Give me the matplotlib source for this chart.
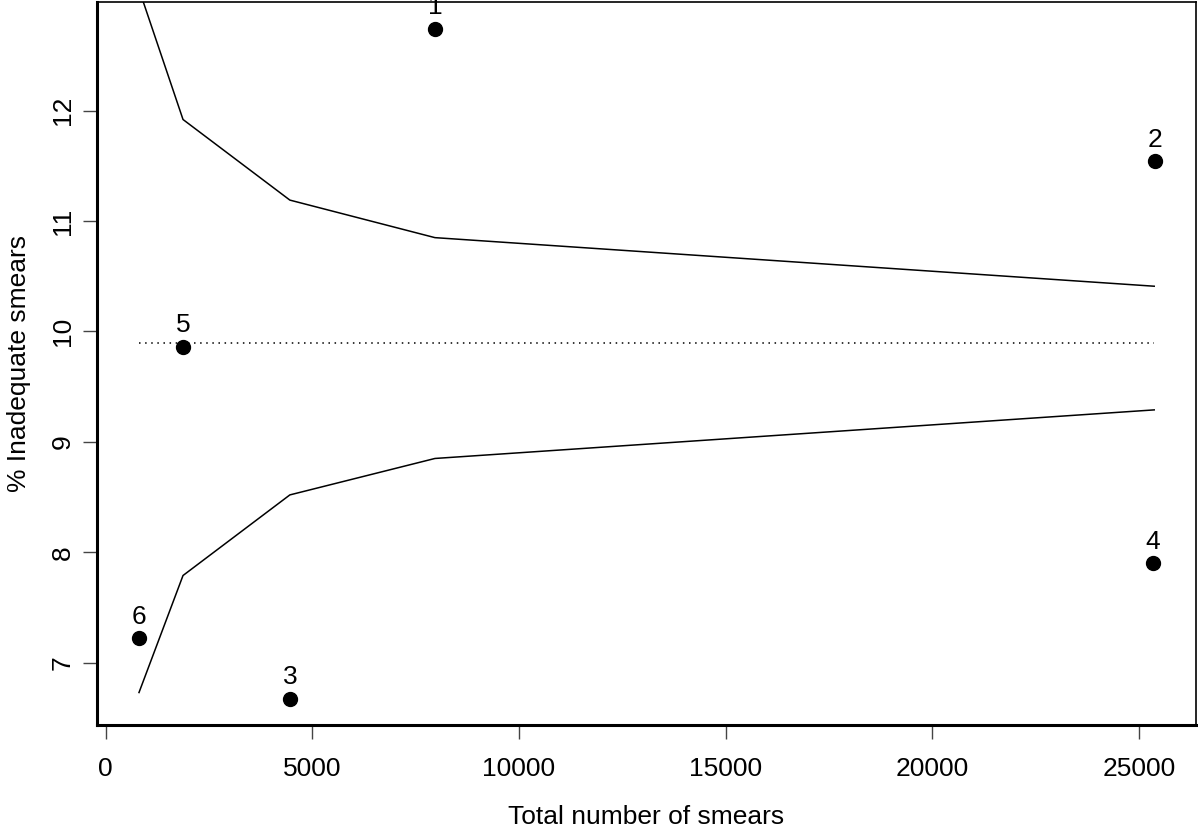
import matplotlib
matplotlib.use("Agg")
import matplotlib.pyplot as plt

plt.rcParams['font.family'] = ['Liberation Sans', 'DejaVu Sans']

# labs: total smears vs % inadequate
lab_ids = ['1', '2', '3', '4', '5', '6']
n_smears = [7970, 25390, 4460, 25340, 1875, 810]
pct_inadequate = [12.74, 11.54, 6.67, 7.90, 9.86, 7.22]

# funnel control limits
limit_x = [810, 1875, 4460, 7970, 25370]
upper_limit = [13.10, 11.92, 11.19, 10.85, 10.41]
lower_limit = [6.73, 7.79, 8.52, 8.85, 9.29]
mean_pct = 9.896

fig = plt.figure(figsize=(11.98, 8.34), dpi=100)
ax = fig.add_axes([0.081, 0.1307, 0.9173, 0.867])

ax.plot(limit_x, upper_limit, color='black', linewidth=1.1)
ax.plot(limit_x, lower_limit, color='black', linewidth=1.1)
ax.plot([limit_x[0], limit_x[-1]], [mean_pct, mean_pct], color='black',
        linewidth=1.1, linestyle=(0, (1, 3)))

ax.plot(n_smears, pct_inadequate, 'o', color='black', markersize=10)
for lab, x, y in zip(lab_ids, n_smears, pct_inadequate):
    ax.annotate(lab, (x, y), xytext=(0, 7), textcoords='offset points',
                ha='center', va='bottom', fontsize=19)

ax.set_xlim(-205, 26380)
ax.set_ylim(6.436, 12.985)
ax.set_xticks([0, 5000, 10000, 15000, 20000, 25000])
ax.set_yticks([7, 8, 9, 10, 11, 12])
ax.tick_params(axis='both', labelsize=19, length=10, width=1, color='#444444')
ax.tick_params(axis='x', pad=13)
ax.tick_params(axis='y', pad=6)
for lbl in ax.get_yticklabels():
    lbl.set_rotation(90)
    lbl.set_va('center')

ax.spines['left'].set_linewidth(2.2)
ax.spines['bottom'].set_linewidth(2.2)
ax.spines['top'].set_linewidth(1.2)
ax.spines['right'].set_linewidth(1.2)

ax.set_xlabel('Total number of smears', fontsize=19, labelpad=17)
ax.set_ylabel('% Inadequate smears', fontsize=19, labelpad=14)

fig.savefig('out.png', dpi=100)
